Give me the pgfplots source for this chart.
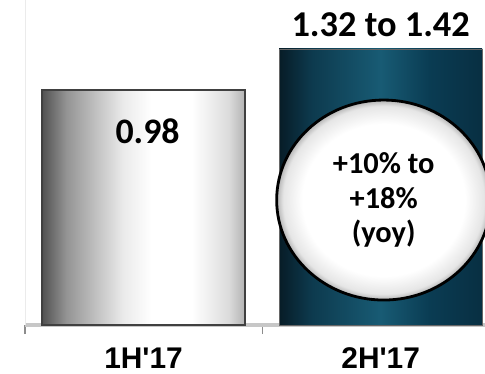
\documentclass[border=0pt]{standalone}
\usepackage{fontspec}
\newfontfamily\lab{Liberation Sans}
\newfontfamily\calib{Carlito}
\usepackage{pgfplots}
\pgfplotsset{compat=1.18}
\usetikzlibrary{shapes.geometric}

% metallic grey cylinder and dark teal cylinder (path spans 25bp..75bp)
\pgfdeclarehorizontalshading{metal}{100bp}{%
  color(0bp)=(black!68); color(25bp)=(black!68); color(31bp)=(black!42);
  color(45bp)=(black!8); color(52bp)=(white); color(62bp)=(white);
  color(71bp)=(black!14); color(75bp)=(black!30); color(100bp)=(black!30)}
\definecolor{tealA}{HTML}{071C27}
\definecolor{tealB}{HTML}{0D3A4E}
\definecolor{tealC}{HTML}{185B74}
\definecolor{tealD}{HTML}{0A3C53}
\definecolor{tealE}{HTML}{082F42}
\pgfdeclarehorizontalshading{tealcyl}{100bp}{%
  color(0bp)=(tealA); color(25bp)=(tealA); color(33bp)=(tealB);
  color(50bp)=(tealC); color(62bp)=(tealD); color(75bp)=(tealE); color(100bp)=(tealE)}
\pgfdeclareradialshading{bubble}{\pgfpoint{0bp}{0bp}}{%
  color(0bp)=(white); color(19bp)=(white); color(23.5bp)=(black!10);
  color(25bp)=(black!30); color(50bp)=(black!30)}

\begin{document}
\begin{tikzpicture}
\useasboundingbox (-25bp,-49bp) rectangle (460bp,325bp);
\clip (-25bp,-49bp) rectangle (460bp,325bp);
\begin{axis}[
  name=ax, at={(0,0)}, anchor=south west,
  scale only axis, width=460bp, height=325bp,
  xmin=-0.5, xmax=1.44, ymin=0, ymax=1.355,
  axis x line=bottom, axis y line=left,
  x axis line style={-, draw=black!22, line width=4.5bp},
  y axis line style={-, draw=black!8, line width=1bp},
  ytick=\empty,
  xtick={0,1}, xticklabels={1H'17, 2H'17},
  major tick length=0pt,
  minor xtick={-0.5,0.5}, minor tick length=9bp, tick align=outside,
  minor tick style={draw=black!45, line width=1.2bp},
  xticklabel style={overlay, font=\lab\bfseries\fontsize{30}{30}\selectfont, yshift=-19bp},
  ybar, bar width=203bp, bar shift=0pt,
  clip=false,
]
% first half: reported value
\addplot[draw=black!75, line width=1.3bp, shade, shading=metal]
  coordinates {(0,0.98)};
% second half: guided range
\addplot[draw=black!60, line width=0.8bp, shade, shading=tealcyl]
  coordinates {(1,1.151)};

\node[overlay, font=\calib\bfseries\fontsize{36}{36}\selectfont, xshift=4bp, yshift=-41bp]
  at (axis cs:0,0.98) {0.98};
\node[overlay, font=\calib\bfseries\fontsize{36.5}{36}\selectfont, yshift=24bp]
  at (axis cs:1,1.151) {1.32 to 1.42};
\node[overlay, ellipse, draw=black, line width=2.8bp, shade, shading=bubble,
      minimum width=214bp, minimum height=200bp, inner sep=0pt,
      align=center, xshift=3bp,
      font=\calib\bfseries\fontsize{30.5}{35}\selectfont]
  at (axis cs:1,0.521) {+10\% to\\+18\%\\(yoy)};
\end{axis}
\end{tikzpicture}
\end{document}
